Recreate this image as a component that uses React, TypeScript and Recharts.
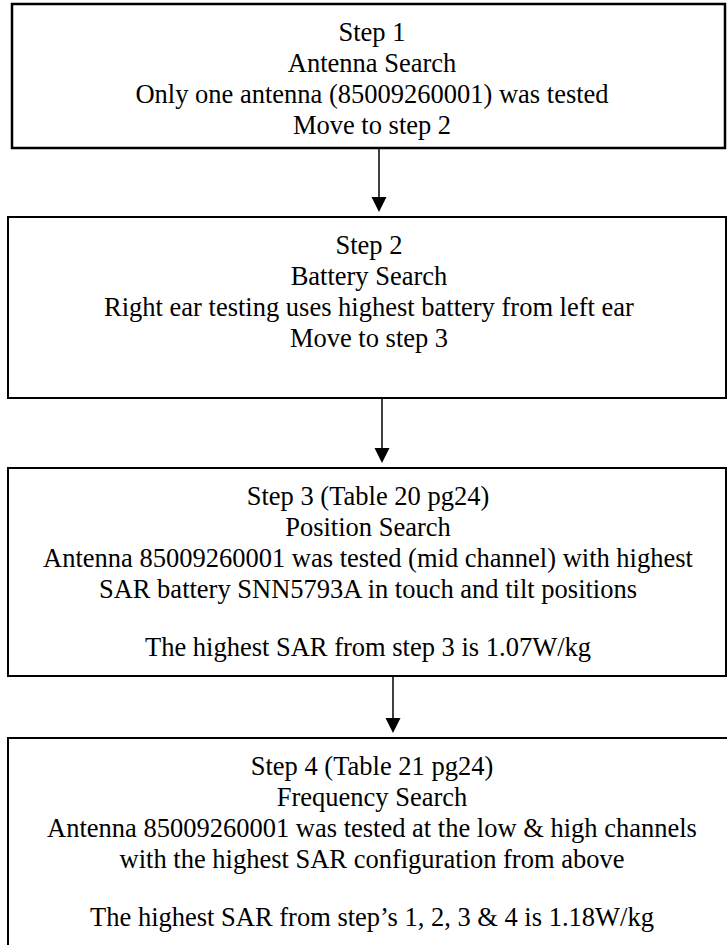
import React from 'react';
import {
  ScatterChart,
  Scatter,
  XAxis,
  YAxis,
  ReferenceArea,
  ReferenceLine,
} from 'recharts';

// text of each step box, one entry per printed line ('' = empty paragraph)
const step1Lines = ['Step 1', 'Antenna Search', 'Only one antenna (85009260001) was tested', 'Move to step 2'];
const step2Lines = ['Step 2', 'Battery Search', 'Right ear testing uses highest battery from left ear', 'Move to step 3'];
const step3Lines = [
  'Step 3 (Table 20 pg24)',
  'Position Search',
  'Antenna 85009260001 was tested (mid channel) with highest',
  'SAR battery SNN5793A in touch and tilt positions',
  '',
  'The highest SAR from step 3 is 1.07W/kg',
];
const step4Lines = [
  'Step 4 (Table 21 pg24)',
  'Frequency Search',
  'Antenna 85009260001 was tested at the low & high channels',
  'with the highest SAR configuration from above',
  '',
  'The highest SAR from step\u2019s 1, 2, 3 & 4 is 1.18W/kg',
];

// box extents in diagram units (1 unit = 1 px of the page)
const boxTop = [4, 217, 468, 738];
const boxBottom = [148, 398, 676, 990];
const boxLeft = [12, 8, 8, 8];
const boxRight = [725, 726, 726, 740];
const textCenter = [372, 369, 368, 372];

// connector arrows between boxes
const arrowX = [379, 382, 393];

const W = 727;
const H = 945;
const FONT = "'Liberation Serif', 'Times New Roman', Times, serif";

const allSteps = [step1Lines, step2Lines, step3Lines, step4Lines];

const textPoints = allSteps.flatMap((lines, i) => {
  let y = boxTop[i] + 28;
  const out: { x: number; y: number; label: string }[] = [];
  lines.forEach((label) => {
    if (label === '') {
      y += 27;
      return;
    }
    out.push({ x: textCenter[i], y, label });
    y += 31;
  });
  return out;
});

const arrowTips = arrowX.map((x, i) => ({ x, y: boxTop[i + 1] - 5 }));

const TextShape = (props: any) => {
  const { cx, cy, payload } = props;
  return (
    <text
      x={cx}
      y={cy + 9}
      textAnchor="middle"
      fontFamily={FONT}
      fontSize={26.5}
      fill="#000"
    >
      {payload.label}
    </text>
  );
};

const ArrowHead = (props: any) => {
  const { cx, cy } = props;
  return <path d={`M${cx},${cy} L${cx - 7.5},${cy - 15} L${cx + 7.5},${cy - 15} Z`} fill="#000" />;
};

export default function App() {
  return (
    <div style={{ position: 'absolute', left: 0, top: 0, background: '#fff' }}>
      <ScatterChart width={W} height={H} margin={{ top: 0, right: 0, bottom: 0, left: 0 }}>
        <XAxis type="number" dataKey="x" domain={[0, W]} allowDataOverflow hide />
        <YAxis type="number" dataKey="y" domain={[0, H]} allowDataOverflow reversed hide />
        {boxTop.map((top, i) => (
          <ReferenceArea
            key={`box-${i}`}
            x1={boxLeft[i]}
            x2={boxRight[i]}
            y1={top}
            y2={boxBottom[i]}
            fill="none"
            stroke="#000"
            strokeWidth={i === 0 ? 2.5 : 2}
            ifOverflow="visible"
          />
        ))}
        {arrowX.map((x, i) => (
          <ReferenceLine
            key={`arrow-${i}`}
            segment={[
              { x, y: boxBottom[i] },
              { x, y: boxTop[i + 1] - 18 },
            ]}
            stroke="#000"
            strokeWidth={1.5}
            ifOverflow="visible"
          />
        ))}
        <Scatter data={arrowTips} shape={ArrowHead} isAnimationActive={false} />
        <Scatter data={textPoints} shape={TextShape} isAnimationActive={false} />
      </ScatterChart>
    </div>
  );
}
